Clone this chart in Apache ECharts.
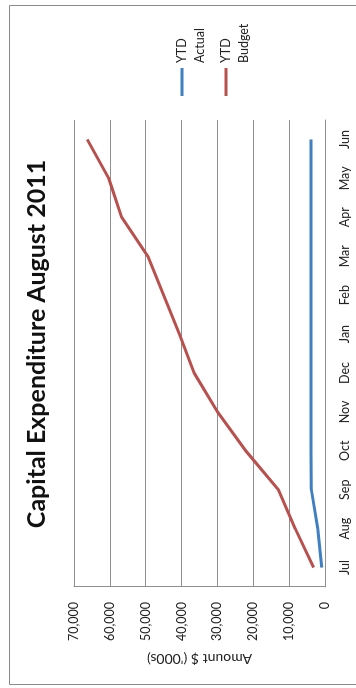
<!DOCTYPE html>
<html>
<head>
<meta charset="utf-8">
<script src="https://cdn.jsdelivr.net/npm/echarts@6/dist/echarts.min.js"></script>
<style>
  html, body { margin: 0; padding: 0; background: #fff; overflow: hidden; width: 356px; height: 688px; }
  /* The chart is laid out landscape and turned a quarter turn counter-clockwise onto the page */
  #chart { position: absolute; left: 0; top: 688px; width: 688px; height: 356px;
           transform-origin: 0 0; transform: rotate(-90deg); }
</style>
</head>
<body>
<div id="chart"></div>
<script>
// Financial year months
const months = ['Jul', 'Aug', 'Sep', 'Oct', 'Nov', 'Dec', 'Jan', 'Feb', 'Mar', 'Apr', 'May', 'Jun'];
// Year-to-date spend, $ '000s
const ytdActual = [900, 2000, 3800, 3900, 3900, 3900, 3900, 3900, 3900, 3900, 3900, 3900];
const ytdBudget = [3200, 8300, 13000, 22100, 30000, 36500, 40600, 45000, 49400, 56700, 60300, 66300];
// Value axis range
const amountMin = 0;
const amountMax = 70000;
const amountStep = 10000;

const FONT = 'Lato, "Open Sans", sans-serif';
const TEXT = '#222';
const GRID_GRAY = '#8f8f8f';

const chart = echarts.init(document.getElementById('chart'), null, { renderer: 'canvas' });

// Legend entries wrap onto two lines; an empty first line keeps the
// swatch level with the first word.
const legendBase = {
  orient: 'vertical',
  padding: 0,
  icon: 'rect',
  itemWidth: 28,
  itemHeight: 3,
  formatter: name => '\n' + name.replace(' ', '\n'),
  textStyle: { fontFamily: FONT, fontSize: 12.5, color: TEXT, lineHeight: 18 }
};

chart.setOption({
  backgroundColor: '#fff',
  animation: false,
  title: {
    text: 'Capital Expenditure August 2011',
    left: 'center',
    top: 24,
    padding: 0,
    textStyle: { fontFamily: FONT, fontSize: 25, fontWeight: 'bold', color: '#111' }
  },
  legend: [
    Object.assign({}, legendBase, { data: ['YTD Actual'], left: 592, top: 155 }),
    Object.assign({}, legendBase, { data: ['YTD Budget'], left: 592, top: 199 })
  ],
  grid: { left: 101, right: 120, top: 74, bottom: 31, containLabel: false, outerBoundsMode: 'none' },
  xAxis: {
    type: 'category',
    data: months,
    boundaryGap: true,
    axisLine: { lineStyle: { color: GRID_GRAY, width: 1 } },
    axisTick: { show: false },
    axisLabel: { margin: 13, fontFamily: FONT, fontSize: 12.5, color: TEXT }
  },
  yAxis: {
    type: 'value',
    min: amountMin,
    max: amountMax,
    interval: amountStep,
    name: "Amount $ ('000s)",
    nameLocation: 'middle',
    nameRotate: 90,
    nameGap: 64,
    nameTextStyle: { fontFamily: FONT, fontSize: 14, color: TEXT },
    axisLine: { show: true, lineStyle: { color: GRID_GRAY, width: 1 } },
    axisTick: { show: false },
    axisLabel: {
      margin: 15, fontFamily: FONT, fontSize: 12.5, color: TEXT,
      formatter: v => v.toLocaleString('en-US')
    },
    splitLine: { lineStyle: { color: GRID_GRAY, width: 1 } }
  },
  series: [
    {
      name: 'YTD Actual', type: 'line', data: ytdActual,
      symbol: 'none', smooth: false,
      lineStyle: { color: '#3f7fc2', width: 3 }, itemStyle: { color: '#3f7fc2' }
    },
    {
      name: 'YTD Budget', type: 'line', data: ytdBudget,
      symbol: 'none', smooth: false,
      lineStyle: { color: '#b8504d', width: 3 }, itemStyle: { color: '#b8504d' }
    }
  ],
  graphic: [{
    type: 'rect',
    silent: true,
    shape: { x: 3.5, y: 9.5, width: 679, height: 400 },
    style: { fill: 'none', stroke: '#8a8a8a', lineWidth: 1 }
  }]
});
</script>
</body>
</html>
